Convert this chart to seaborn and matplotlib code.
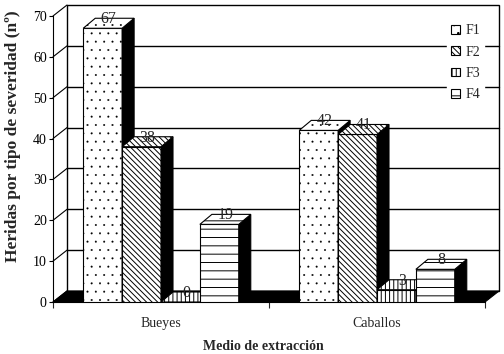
import matplotlib
matplotlib.use("Agg")
import matplotlib.pyplot as plt
import seaborn as sns
import pandas as pd
from matplotlib.patches import Polygon, Patch

# ---- data ----
categories = ["Bueyes", "Caballos"]
series = ["F1", "F2", "F3", "F4"]
f1 = [67, 42]
f2 = [38, 41]
f3 = [0, 3]
f4 = [19, 8]
y_ticks = [0, 10, 20, 30, 40, 50, 60, 70]
ylabel = "Heridas por tipo de severidad (nº)"
xlabel = "Medio de extracción"

rows = []
for s, vals in zip(series, [f1, f2, f3, f4]):
    for c, v in zip(categories, vals):
        rows.append({"medio": c, "serie": s, "valor": v})
df = pd.DataFrame(rows)

sns.set_style("white")
plt.rcParams["font.family"] = ["Liberation Serif", "DejaVu Serif"]
plt.rcParams["hatch.linewidth"] = 0.7

W, H = 504, 354
fig = plt.figure(figsize=(W / 100, H / 100), dpi=100)
fig.patch.set_facecolor("white")
ax = fig.add_axes([53 / W, (H - 302) / H, 432 / W, 286 / H])
ax.set_facecolor("none")

hatches = ["..", "\\\\\\\\\\\\", "||||", "--"]
hatch_lw = [0.2, 0.7, 0.7, 0.7]


def set_hlw(p, lw):
    try:
        p.set_hatch_linewidth(lw)
    except Exception:
        pass


sns.barplot(data=df, x="medio", y="valor", hue="serie", order=categories,
            hue_order=series, palette=["white"] * 4, saturation=1,
            edgecolor="black", linewidth=0.8, width=0.72, errorbar=None,
            legend=False, ax=ax)

ax.set_xlim(-0.5, 1.5)
ax.set_ylim(0, 70)
fig.canvas.draw()

WDX, WDY = 14, 11   # wall depth (px)
BDX, BDY = 12, 10   # bar depth (px)


def off(x, y, dx, dy):
    p = ax.transData.transform((x, y))
    return tuple(ax.transData.inverted().transform((p[0] + dx, p[1] + dy)))


x0a, x1a = ax.get_xlim()
# back wall
bw = [off(x0a, 0, WDX, WDY), off(x1a, 0, WDX, WDY), off(x1a, 70, WDX, WDY), off(x0a, 70, WDX, WDY)]
ax.add_patch(Polygon(bw, closed=True, facecolor="white", edgecolor="black", lw=1.0,
                     zorder=0.5, clip_on=False))
# gridlines on back wall
for t in y_ticks[1:-1]:
    a = off(x0a, t, WDX, WDY)
    b = off(x1a, t, WDX, WDY)
    ax.plot([a[0], b[0]], [a[1], b[1]], color="black", lw=1.0, zorder=0.6, clip_on=False)
# left wall diagonals
for t in y_ticks:
    b = off(x0a, t, WDX, WDY)
    ax.plot([x0a, b[0]], [t, b[1]], color="black", lw=0.8, zorder=0.6, clip_on=False)
# floor
fl = [(x0a, 0), (x1a, 0), off(x1a, 0, WDX, WDY), off(x0a, 0, WDX, WDY)]
ax.add_patch(Polygon(fl, closed=True, facecolor="black", edgecolor="black", lw=0.8,
                     zorder=0.7, clip_on=False))

# bars with 3D faces
bars = []
for i, cont in enumerate(ax.containers):
    for bar in cont:
        bars.append((bar.get_x(), bar, i))
bars.sort(key=lambda t: t[0])
for k, (_, bar, i) in enumerate(bars):
    h = hatches[i]
    z = 3 + 0.1 * k
    bar.set_hatch(h)
    set_hlw(bar, hatch_lw[i])
    bar.set_zorder(z)
    bx0 = bar.get_x()
    bx1 = bx0 + bar.get_width()
    bh = bar.get_height()
    side = [(bx1, 0), (bx1, bh), off(bx1, bh, BDX, BDY), off(bx1, 0, BDX, BDY)]
    ax.add_patch(Polygon(side, closed=True, facecolor="black", edgecolor="black", lw=0.8,
                         zorder=z + 0.02, clip_on=False))
    top = [(bx0, bh), (bx1, bh), off(bx1, bh, BDX, BDY), off(bx0, bh, BDX, BDY)]
    tp = Polygon(top, closed=True, facecolor="white", edgecolor="black", lw=0.8,
                 hatch=h, zorder=z + 0.03, clip_on=False)
    set_hlw(tp, hatch_lw[i])
    ax.add_patch(tp)
    cx, cy = off((bx0 + bx1) / 2, bh, BDX / 2, BDY / 2 + 4)
    ax.text(cx, cy, f"{bh:.0f}", ha="center", va="center", fontsize=11.5,
            zorder=z + 0.05, clip_on=False)

# axes styling
for s in ["top", "right"]:
    ax.spines[s].set_visible(False)
for s in ["left", "bottom"]:
    ax.spines[s].set_visible(True)
    ax.spines[s].set_color("black")
    ax.spines[s].set_linewidth(0.8)
    ax.spines[s].set_zorder(1)
ax.set_yticks(y_ticks)
ax.set_yticklabels([str(t) for t in y_ticks], fontsize=10)
ax.tick_params(axis="y", direction="out", length=3, width=0.8, pad=1.5, colors="black", left=True)
ax.set_xticks([0, 1])
ax.set_xticklabels(categories, fontsize=10)
ax.set_xticks([-0.5, 0.5, 1.5], minor=True)
ax.tick_params(axis="x", which="major", length=0, pad=11)
ax.tick_params(axis="x", which="minor", direction="out", length=4, width=0.8, bottom=True)
ax.set_xlabel("")
ax.set_ylabel("")
ax.grid(False)

fig.text(13 / W, 1 - 262 / H, ylabel, rotation=90, ha="center", va="bottom",
         fontsize=12.5, fontweight="bold")
fig.text(263 / W, 1 - 346 / H, xlabel, ha="center", va="center",
         fontsize=10, fontweight="bold")

handles = []
for s, h, lw in zip(series, hatches, hatch_lw):
    p = Patch(facecolor="white", edgecolor="black", hatch=h, lw=0.8, label=s)
    set_hlw(p, lw)
    handles.append(p)
leg = fig.legend(handles=handles, loc="upper left", bbox_to_anchor=(447 / W, 1 - 20 / H),
                 bbox_transform=fig.transFigure, frameon=True, fancybox=False,
                 framealpha=1, facecolor="white", edgecolor="white",
                 handlelength=0.6, handleheight=0.6, handletextpad=0.4,
                 labelspacing=0.6, borderpad=0.3, borderaxespad=0, fontsize=10)
leg.set_zorder(20)

fig.savefig("out.png", dpi=100, facecolor="white")
